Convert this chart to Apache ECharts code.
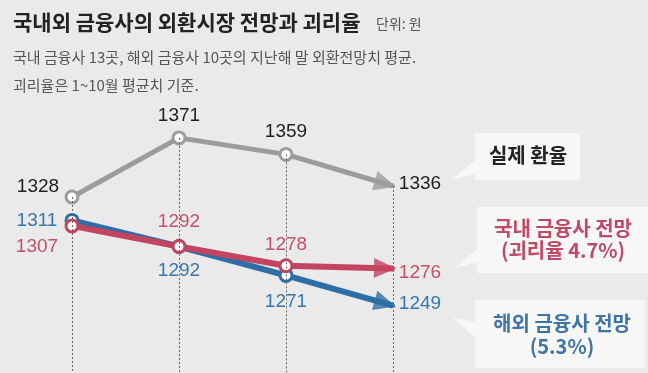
<!DOCTYPE html>
<html><head><meta charset="utf-8">
<script src="https://cdn.jsdelivr.net/npm/echarts@6/dist/echarts.min.js"></script>
<style>html,body{margin:0;padding:0;background:#eaeaea}#c{width:648px;height:373px}</style>
</head><body><div id="c"></div>
<script>
// ---- data ----
const categories = ['1', '2', '3', '4'];
const actualRate = [1328, 1371, 1359, 1336];
const domesticForecast = [1307, 1292, 1278, 1276];
const foreignForecast = [1311, 1292, 1271, 1249];
const titleText = '국내외 금융사의 외환시장 전망과 괴리율';
const unitText = '단위: 원';
const noteLines = ['국내 금융사 13곳, 해외 금융사 10곳의 지난해 말 외환전망치 평균.', '괴리율은 1~10월 평균치 기준.'];
const actualCallout = ['실제 환율'];
const domesticCallout = ['국내 금융사 전망', '(괴리율 4.7%)'];
const foreignCallout = ['해외 금융사 전망', '(5.3%)'];

// ---- styles ----
const BG = '#eaeaea';
const GRAY = '#9c9c9c', RED = '#c2445e', BLUE = '#2d6ea6';
const NUM_FONT = '"Liberation Sans", Arial, sans-serif';
const KR_FONT = '"Noto Sans CJK KR", sans-serif';
const yMin = 1200, yMax = 1400;
const actualOffsets = [[-34, -10], [0, -22], [0, -23], [27, -2]];
const domesticOffsets = [[-35, 21], [0, -25], [0, -21], [27, 4]];
const foreignOffsets = [[-35, 0], [0, 24], [0, 26], [27, -2]];
const arrowSize = [20, 22];

function buildData(values, offsets) {
  return values.map((v, i) => ({
    value: v,
    symbol: 'circle',
    symbolSize: i === values.length - 1 ? 1 : 12,
    label: { offset: offsets[i] }
  }));
}
function lineSeries(name, values, offsets, color, labelColor, width) {
  return {
    type: 'line', name, z: 3, data: buildData(values, offsets),
    lineStyle: { color, width },
    itemStyle: { color: '#fff', borderColor: color, borderWidth: 3 },
    label: { show: true, position: 'inside', color: labelColor, fontSize: 19, fontFamily: NUM_FONT,
             backgroundColor: BG, padding: [1, 2] },
    emphasis: { disabled: true }, silent: true, animation: false
  };
}
function textEl(text, x, y, font, fill, align) {
  return { type: 'text', x, y, style: { text, font, fill, align: align || 'left', verticalAlign: 'middle' }, z: 10 };
}
function callout(rect, pointer, lines, ys, cx, color) {
  const els = [
    { type: 'rect', shape: rect, style: { fill: '#f7f7f7' }, z: 5 },
    { type: 'polygon', shape: { points: pointer }, style: { fill: '#f7f7f7' }, z: 5 }
  ];
  lines.forEach((t, i) => els.push(textEl(t, cx, ys[i], 'bold 20px ' + KR_FONT, color, 'center')));
  return els;
}

const graphics = [
  textEl(titleText, 13, 22, 'bold 21px ' + KR_FONT, '#222'),
  textEl(unitText, 376, 24, '14px ' + KR_FONT, '#555'),
  textEl(noteLines[0], 13, 57, '15px ' + KR_FONT, '#555'),
  textEl(noteLines[1], 13, 85, '15px ' + KR_FONT, '#555'),
  ...callout({ x: 475, y: 133, width: 105, height: 47 }, [[476, 160], [476, 174], [452, 179]], actualCallout, [155], 528, '#222'),
  ...callout({ x: 477, y: 207, width: 171, height: 66 }, [[478, 248], [478, 262], [455, 268]], domesticCallout, [228, 250], 563, '#c04a66'),
  ...callout({ x: 475, y: 300, width: 170, height: 68 }, [[476, 322], [476, 338], [453, 318]], foreignCallout, [323, 346], 562, '#3f74a6')
];

const chart = echarts.init(document.getElementById('c'), null, { renderer: 'canvas' });
const option = {
  backgroundColor: BG,
  animation: false,
  grid: { left: 72, right: 255, top: 98, height: 279 },
  xAxis: { type: 'category', data: categories, boundaryGap: false, show: false },
  yAxis: { type: 'value', min: yMin, max: yMax, show: false },
  graphic: graphics,
  series: [
    {
      type: 'line', id: 'guides', data: actualRate, symbol: 'none', lineStyle: { opacity: 0 }, z: 1, silent: true,
      markLine: {
        silent: true, symbol: 'none', label: { show: false }, animation: false,
        lineStyle: { type: [2, 2], color: '#666', width: 1 },
        data: actualRate.map((v, i) => [{ coord: [categories[i], v] }, { coord: [categories[i], yMin] }])
      }
    },
    lineSeries('실제 환율', actualRate, actualOffsets, GRAY, '#1e1e1e', 5),
    lineSeries('해외 금융사 전망', foreignForecast, foreignOffsets, BLUE, '#3776ad', 6),
    lineSeries('국내 금융사 전망', domesticForecast, domesticOffsets, RED, '#c4506a', 6),
    { type: 'scatter', id: 'arrows', data: [], symbol: 'triangle', symbolSize: arrowSize, z: 4, silent: true, animation: false }
  ]
};
chart.setOption(option);

function arrowItem(values, color) {
  const n = values.length;
  const a = chart.convertToPixel({ gridIndex: 0 }, [n - 2, values[n - 2]]);
  const b = chart.convertToPixel({ gridIndex: 0 }, [n - 1, values[n - 1]]);
  const dx = b[0] - a[0], dy = b[1] - a[1];
  const len = Math.hypot(dx, dy);
  const ux = dx / len, uy = dy / len;
  const rot = Math.atan2(-dy, dx) * 180 / Math.PI - 90;
  const back = arrowSize[1] / 2 - 3;
  return { value: [n - 1, values[n - 1]], symbolRotate: rot, symbolOffset: [-ux * back, -uy * back], itemStyle: { color } };
}
chart.setOption({
  series: [{ id: 'arrows', data: [
    arrowItem(actualRate, GRAY),
    arrowItem(foreignForecast, BLUE),
    arrowItem(domesticForecast, RED)
  ] }]
});
</script></body></html>
